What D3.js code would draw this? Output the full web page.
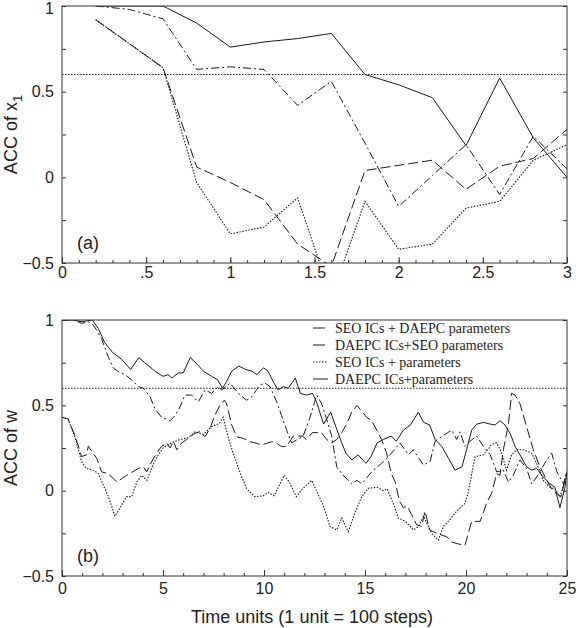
<!DOCTYPE html>
<html>
<head>
<meta charset="utf-8">
<script src="https://cdn.jsdelivr.net/npm/d3@7"></script>
<style>
  body { margin: 0; background: #fff; }
  svg { display: block; }
  .tick text { font-family: "Liberation Sans", Arial, sans-serif; font-size: 16px; fill: #222; }
  .domain { display: none; }
  .tick line { stroke: #333; stroke-width: 1; }
</style>
</head>
<body>
<script>
// panel (a): lead times and ACC of x1
var timeA = [0.2, 0.4, 0.6, 0.8, 1.0, 1.2, 1.4, 1.6, 1.8, 2.0, 2.2, 2.4, 2.6, 2.8, 3.0];
var a_daepc_all  = [1.0, 1.0, 1.0, 0.90, 0.76, 0.79, 0.81, 0.84, 0.60, 0.54, 0.465, 0.185, 0.58, 0.23, 0.0];
var a_daepc_ics  = [1.0, 0.98, 0.925, 0.63, 0.645, 0.63, 0.42, 0.56, 0.20, -0.17, 0.01, 0.19, -0.10, 0.24, 0.05];
var a_seo_ics    = [0.92, 0.78, 0.64, 0.06, -0.03, -0.13, -0.39, -0.52, 0.04, 0.07, 0.10, -0.07, 0.065, 0.11, 0.28];
var a_seo_all    = [0.92, 0.78, 0.64, -0.03, -0.33, -0.29, -0.12, -0.70, -0.14, -0.42, -0.39, -0.18, -0.14, 0.10, 0.19];

// panel (b): [time, ACC of w]
var b_daepc_all = [[0,1.0],[0.5,1.0],[1.0,0.99],[1.5,1.0],[1.8,0.95],[2.1,0.87],[2.5,0.81],[2.95,0.77],[3.4,0.71],[3.8,0.78],[4.1,0.75],[4.6,0.70],[5.0,0.67],[5.25,0.68],[5.45,0.66],[5.75,0.69],[6.0,0.69],[6.35,0.78],[6.7,0.74],[7.0,0.70],[7.4,0.67],[7.7,0.65],[7.95,0.60],[8.15,0.64],[8.4,0.70],[8.75,0.73],[9.1,0.71],[9.4,0.70],[9.65,0.68],[9.97,0.72],[10.2,0.70],[10.45,0.64],[10.7,0.59],[10.95,0.61],[11.2,0.60],[11.55,0.66],[11.8,0.57],[12.1,0.56],[12.4,0.57],[12.6,0.52],[12.95,0.39],[13.3,0.46],[13.6,0.36],[13.85,0.28],[14.05,0.22],[14.35,0.18],[14.65,0.21],[15.05,0.16],[15.3,0.20],[15.6,0.28],[15.9,0.30],[16.3,0.32],[16.55,0.29],[16.9,0.355],[17.25,0.385],[17.64,0.46],[17.9,0.40],[18.2,0.385],[18.47,0.30],[18.8,0.26],[19.13,0.19],[19.46,0.12],[19.8,0.14],[20.03,0.24],[20.28,0.355],[20.53,0.39],[20.86,0.40],[21.2,0.39],[21.44,0.385],[21.68,0.41],[21.93,0.385],[22.18,0.336],[22.43,0.26],[22.67,0.21],[23.0,0.14],[23.25,0.12],[23.5,0.13],[23.83,0.08],[24.16,0.04],[24.4,0.02],[24.65,-0.10],[24.9,0.02],[25,0.11]];
var b_daepc_ics = [[0,1.0],[0.64,1.0],[0.97,0.98],[1.3,0.99],[1.55,0.97],[1.72,0.94],[1.96,0.89],[2.3,0.78],[2.54,0.72],[2.87,0.69],[3.12,0.68],[3.53,0.64],[3.78,0.61],[4.03,0.60],[4.36,0.55],[4.6,0.48],[4.93,0.43],[5.35,0.41],[5.6,0.44],[5.84,0.49],[6.09,0.56],[6.42,0.56],[6.75,0.52],[7.08,0.59],[7.41,0.57],[7.74,0.61],[7.9,0.59],[8.32,0.63],[8.73,0.57],[9.14,0.53],[9.39,0.55],[9.8,0.62],[10.05,0.63],[10.3,0.61],[10.63,0.52],[10.87,0.44],[11.12,0.355],[11.37,0.28],[11.94,0.32],[12.28,0.43],[12.61,0.56],[12.85,0.51],[13.1,0.42],[13.35,0.32],[13.6,0.14],[13.85,0.10],[14.09,0.07],[14.34,0.04],[14.6,0.06],[14.84,0.04],[15.33,0.11],[15.82,0.16],[16.24,0.21],[16.73,0.28],[17.15,0.21],[17.39,0.24],[17.89,0.15],[18.22,0.17],[18.47,0.29],[18.71,0.31],[19.29,0.355],[19.54,0.30],[19.7,0.345],[19.95,0.26],[20.2,0.29],[20.53,0.32],[20.86,0.26],[21.2,0.21],[21.52,0.11],[21.85,0.12],[22.1,0.05],[22.34,0.09],[22.67,0.18],[23.0,0.13],[23.25,0.04],[23.5,0.08],[24.0,0.18],[24.24,0.22],[24.5,0.11],[24.83,0.04],[25,0.12]];
var b_seo_ics = [[0,0.43],[0.3,0.42],[0.65,0.32],[0.97,0.20],[1.22,0.21],[1.3,0.26],[1.72,0.19],[1.96,0.11],[2.29,0.10],[2.71,0.05],[2.95,0.07],[3.2,0.09],[3.78,0.13],[4.03,0.14],[4.19,0.11],[4.44,0.17],[4.69,0.22],[4.93,0.26],[5.18,0.28],[5.35,0.25],[5.51,0.29],[5.68,0.24],[5.92,0.28],[6.17,0.30],[6.58,0.336],[6.83,0.346],[7.08,0.316],[7.33,0.365],[7.57,0.443],[7.82,0.50],[8.04,0.53],[8.15,0.51],[8.4,0.385],[8.65,0.316],[8.98,0.306],[9.31,0.287],[9.64,0.277],[9.88,0.268],[10.13,0.277],[10.38,0.287],[10.63,0.277],[10.87,0.258],[11.12,0.26],[11.45,0.32],[11.9,0.32],[12.1,0.30],[12.4,0.34],[12.85,0.34],[13.1,0.30],[13.35,0.28],[13.6,0.30],[13.85,0.34],[14.09,0.39],[14.34,0.46],[14.6,0.50],[15.08,0.43],[15.33,0.41],[15.58,0.355],[15.82,0.30],[16.07,0.22],[16.3,0.10],[16.5,0.05],[16.7,-0.06],[16.9,-0.10],[17.1,-0.09],[17.3,-0.14],[17.56,-0.20],[17.8,-0.21],[17.97,-0.12],[18.2,-0.23],[18.55,-0.25],[19.04,-0.27],[19.29,-0.30],[19.54,-0.31],[19.95,-0.32],[20.28,-0.18],[20.7,-0.18],[21.03,-0.07],[21.27,-0.015],[21.52,0.10],[21.68,0.09],[21.85,0.24],[22.1,0.39],[22.26,0.57],[22.43,0.56],[22.67,0.51],[23.0,0.375],[23.33,0.24],[23.66,0.14],[24.0,0.06],[24.3,0.0],[24.7,-0.035],[25,0.11]];
var b_seo_all = [[0,0.43],[0.3,0.42],[0.65,0.31],[0.97,0.17],[1.2,0.13],[1.55,0.12],[1.8,0.10],[2.05,0.03],[2.3,-0.035],[2.62,-0.15],[2.87,-0.10],[3.2,-0.035],[3.45,-0.035],[3.7,0.05],[3.95,0.09],[4.2,0.06],[4.5,0.15],[4.77,0.21],[5.0,0.25],[5.26,0.27],[5.5,0.285],[5.84,0.30],[6.25,0.31],[6.58,0.345],[7.0,0.33],[7.4,0.375],[7.8,0.395],[7.98,0.43],[8.23,0.31],[8.5,0.21],[8.85,0.095],[9.15,0.01],[9.55,-0.035],[9.97,-0.03],[10.2,-0.01],[10.5,-0.03],[10.8,0.04],[11.0,0.09],[11.25,0.05],[11.6,-0.035],[11.9,0.01],[12.36,0.06],[12.6,0.0],[12.94,-0.09],[13.27,-0.21],[13.6,-0.23],[13.85,-0.16],[14.17,-0.24],[14.5,-0.13],[14.84,-0.035],[15.16,0.014],[15.6,0.02],[15.9,0.0],[16.1,0.01],[16.4,-0.075],[16.65,-0.16],[17.0,-0.18],[17.4,-0.23],[17.64,-0.21],[17.9,-0.15],[18.3,-0.25],[18.63,-0.29],[18.88,-0.21],[19.2,-0.17],[19.54,-0.12],[19.95,-0.075],[20.1,-0.015],[20.45,0.20],[20.86,0.21],[21.27,0.27],[21.52,0.28],[21.77,0.22],[22.0,0.12],[22.26,0.21],[22.5,0.24],[22.84,0.24],[23.25,0.22],[23.5,0.16],[23.83,0.06],[24.16,0.02],[24.4,0.01],[24.65,-0.035],[24.9,0.06],[25,0.10]];

var legendLabels = ['SEO ICs + DAEPC parameters', 'DAEPC ICs+SEO parameters', 'SEO ICs + parameters', 'DAEPC ICs+parameters'];
var yTickValues = [-0.5, 0, 0.5, 1];
var yTickLabels = ['\u22120.5', '0', '0.5', '1'];
var topXTickValues = [0, 0.5, 1, 1.5, 2, 2.5, 3];
var topXTickLabels = ['0', '.5', '1', '1.5', '2', '2.5', '3'];
var bottomXTickValues = [0, 5, 10, 15, 20, 25];
var threshold = 0.6;

var styles = {
  daepc_all: null,
  daepc_ics: '8,3,2,3',
  seo_ics: '10,4',
  seo_all: '1.5,1.5'
};

var svg = d3.select('body')
  .append('svg')
  .attr('width', 576)
  .attr('height', 628);

function draw_panel(opts)
{
  var x = d3.scaleLinear().domain(opts.xdomain).range([62, 567]);
  var y = d3.scaleLinear().domain([-0.5, 1]).range([opts.bottom, opts.top]);
  var g = svg.append('g');

  g.append('clipPath')
    .attr('id', opts.id)
    .append('rect')
    .attr('x', 62).attr('y', opts.top)
    .attr('width', 505).attr('height', opts.bottom - opts.top);

  // minor ticks
  g.append('g')
    .attr('transform', 'translate(0,' + opts.bottom + ')')
    .call(d3.axisBottom(x).tickValues(opts.minor).tickSize(-3).tickFormat(''));
  g.append('g')
    .attr('transform', 'translate(0,' + opts.bottom + ')')
    .call(d3.axisBottom(x).tickValues(opts.xticks).tickSize(-6).tickPadding(opts.xpad)
      .tickFormat((d, i) => opts.xlabels[i]));
  var yminor = [-0.25, 0.25, 0.75];
  g.append('g')
    .attr('transform', 'translate(62,0)')
    .call(d3.axisLeft(y).tickValues(yminor.concat(yTickValues)).tickSize(-4).tickFormat(''));
  var ylab = g.append('g')
    .attr('transform', 'translate(62,0)')
    .call(d3.axisLeft(y).tickValues(yTickValues).tickSize(0).tickPadding(8)
      .tickFormat((d, i) => yTickLabels[i]));
  // keep the top label inside the picture
  ylab.selectAll('.tick text').filter(d => d == 1 && opts.top < 10).attr('dy', '0.45em');
  g.append('g')
    .attr('transform', 'translate(567,0)')
    .call(d3.axisRight(y).tickValues(yminor.concat(yTickValues)).tickSize(-4).tickFormat(''));

  // threshold line
  g.append('line')
    .attr('x1', 62).attr('x2', 567)
    .attr('y1', y(threshold)).attr('y2', y(threshold))
    .attr('stroke', '#222')
    .attr('stroke-width', 1)
    .attr('stroke-dasharray', '1.5,1.5');

  var line = d3.line().x(d => x(d[0])).y(d => y(d[1]));
  var lines = g.append('g').attr('clip-path', 'url(#' + opts.id + ')');
  opts.series.forEach(function(s) {
    lines.append('path')
      .attr('d', line(s.data))
      .attr('fill', 'none')
      .attr('stroke', '#1a1a1a')
      .attr('stroke-width', s.dash == '1.5,1.5' ? 1.1 : 1)
      .attr('stroke-dasharray', s.dash);
  });

  g.append('rect')
    .attr('x', 62).attr('y', opts.top)
    .attr('width', 505).attr('height', opts.bottom - opts.top)
    .attr('fill', 'none')
    .attr('stroke', '#333')
    .attr('stroke-width', 1);

  g.append('text')
    .attr('x', 77)
    .attr('y', opts.bottom - 14)
    .style('font-family', '"Liberation Sans", Arial, sans-serif')
    .style('font-size', '18px')
    .attr('fill', '#222')
    .text(opts.tag);

  var lab = g.append('text')
    .attr('transform', 'translate(17,' + ((opts.top + opts.bottom) / 2) + ') rotate(-90)')
    .attr('text-anchor', 'middle')
    .style('font-family', '"Liberation Sans", Arial, sans-serif')
    .style('font-size', '18px')
    .attr('fill', '#222');
  lab.append('tspan').text(opts.ylabel);
  if (opts.ysub)
  {
    lab.append('tspan').attr('dy', 5).style('font-size', '13px').text(opts.ysub);
  }
  return g;
}

function pairs(values)
{
  return timeA.map((t, i) => [t, values[i]]);
}

draw_panel({
  id: 'clipa', top: 6, bottom: 263, xdomain: [0, 3],
  minor: d3.range(0, 31).map(d => d / 10),
  xticks: topXTickValues, xlabels: topXTickLabels, xpad: 4,
  tag: '(a)', ylabel: 'ACC of x', ysub: '1',
  series: [
    {data: pairs(a_daepc_all), dash: styles.daepc_all},
    {data: pairs(a_daepc_ics), dash: styles.daepc_ics},
    {data: pairs(a_seo_ics), dash: styles.seo_ics},
    {data: pairs(a_seo_all), dash: styles.seo_all}
  ]
});

var gb = draw_panel({
  id: 'clipb', top: 320, bottom: 576, xdomain: [0, 25],
  minor: d3.range(0, 26),
  xticks: bottomXTickValues, xlabels: bottomXTickValues.map(String), xpad: 7,
  tag: '(b)', ylabel: 'ACC of w', ysub: null,
  series: [
    {data: b_daepc_all, dash: styles.daepc_all},
    {data: b_daepc_ics, dash: styles.daepc_ics},
    {data: b_seo_ics, dash: styles.seo_ics},
    {data: b_seo_all, dash: styles.seo_all}
  ]
});

// legend
var legend = gb.append('g');
legendLabels.forEach(function(label, i) {
  var yy = 333 + i * 17;
  legend.append('line')
    .attr('x1', 313).attr('x2', i < 2 ? 325 : 328)
    .attr('y1', yy - 5).attr('y2', yy - 5)
    .attr('stroke', '#1a1a1a')
    .attr('stroke-width', 1)
    .attr('stroke-dasharray', i == 2 ? '1.5,1.5' : null);
  legend.append('text')
    .attr('x', 335)
    .attr('y', yy)
    .style('font-family', '"Liberation Serif", "Times New Roman", serif')
    .style('font-size', '14px')
    .attr('fill', '#222')
    .text(label);
});

svg.append('text')
  .attr('x', 312)
  .attr('y', 623)
  .attr('text-anchor', 'middle')
  .style('font-family', '"Liberation Sans", Arial, sans-serif')
  .style('font-size', '18px')
  .attr('fill', '#222')
  .text('Time units (1 unit = 100 steps)');
</script>
</body>
</html>
